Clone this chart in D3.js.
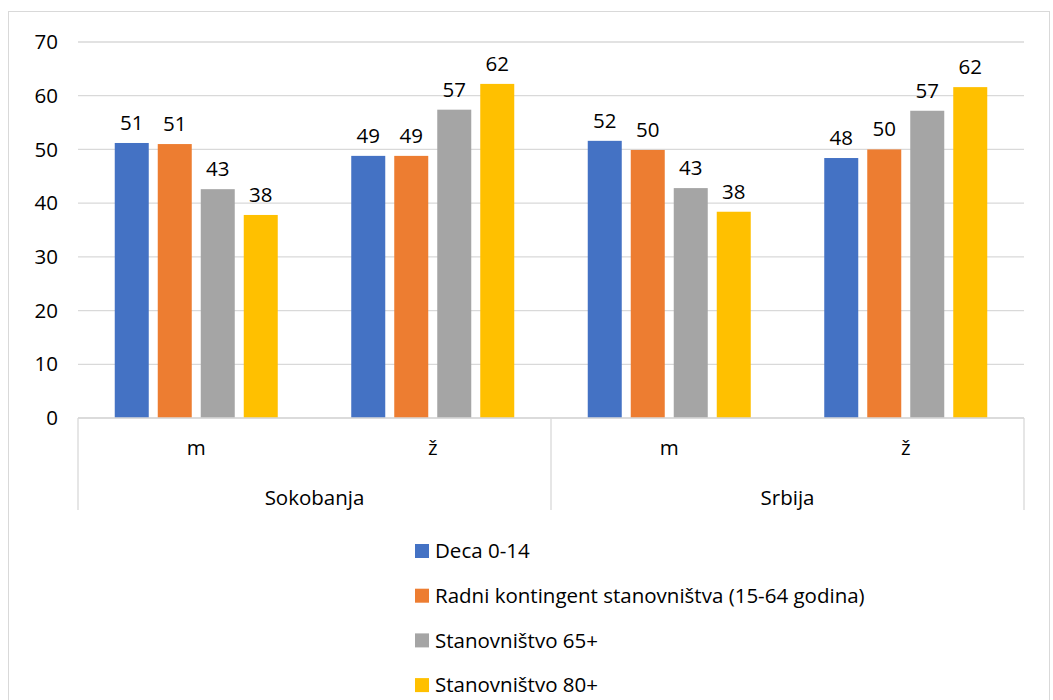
<!DOCTYPE html>
<html>
<head>
<meta charset="utf-8">
<script src="https://d3js.org/d3.v7.min.js"></script>
<style>
  body { margin: 0; background: #fff; }
  text { font-family: "Open Sans", sans-serif; fill: #000; }
</style>
</head>
<body>
<script>
const width = 1053;
const height = 700;

// data
const regions = ['Sokobanja', 'Srbija'];
const sexes = ['m', 'ž'];
const seriesNames = ['Deca 0-14', 'Radni kontingent stanovništva (15-64 godina)', 'Stanovništvo 65+', 'Stanovništvo 80+'];
const colors = ['#4472c4', '#ed7d31', '#a5a5a5', '#ffc000'];
// one array per series, order: Sokobanja m, Sokobanja ž, Srbija m, Srbija ž
const deca = [51.2, 48.8, 51.6, 48.4];
const radni = [51.0, 48.8, 49.9, 50.0];
const st65 = [42.6, 57.4, 42.8, 57.2];
const st80 = [37.8, 62.2, 38.4, 61.6];
const yTicks = [0, 10, 20, 30, 40, 50, 60, 70];

const seriesValues = [deca, radni, st65, st80];
const cats = [];
regions.forEach(r => sexes.forEach(s => cats.push(r + '|' + s)));

const fs = 20.5;

const svg = d3.select('body').append('svg')
  .attr('width', width)
  .attr('height', height);

// outer frame
svg.append('rect')
  .attr('x', 8.5).attr('y', 11.5)
  .attr('width', 1041).attr('height', 700)
  .attr('fill', 'none').attr('stroke', '#d9d9d9');

const plotL = 78, plotR = 1024, plotT = 42, plotB = 418;

const x = d3.scaleBand().domain(cats).range([plotL, plotR]);
const xInner = d3.scaleBand().domain(d3.range(4)).range([0, 163]).paddingInner(9 / 43);
const y = d3.scaleLinear().domain([0, 70]).range([plotB, plotT]);

// gridlines
svg.append('g').selectAll('line')
  .data(yTicks)
  .join('line')
  .attr('x1', plotL).attr('x2', plotR)
  .attr('y1', d => y(d)).attr('y2', d => y(d))
  .attr('stroke', '#d9d9d9').attr('stroke-width', 1.3);

// y labels
svg.append('g').selectAll('text')
  .data(yTicks)
  .join('text')
  .attr('x', 58).attr('y', d => y(d))
  .attr('dy', '0.35em')
  .attr('text-anchor', 'end')
  .attr('font-size', fs)
  .text(d => d);

// bars
const bars = [];
seriesValues.forEach((vals, si) => vals.forEach((v, ci) => bars.push({ si, cat: cats[ci], v })));

const offset = (x.bandwidth() - 163) / 2;
svg.append('g').selectAll('rect')
  .data(bars)
  .join('rect')
  .attr('x', d => x(d.cat) + offset + xInner(d.si))
  .attr('y', d => y(d.v))
  .attr('width', xInner.bandwidth())
  .attr('height', d => plotB - y(d.v))
  .attr('fill', d => colors[d.si]);

svg.append('g').selectAll('text')
  .data(bars)
  .join('text')
  .attr('x', d => x(d.cat) + offset + xInner(d.si) + xInner.bandwidth() / 2)
  .attr('y', d => y(d.v) - 13)
  .attr('text-anchor', 'middle')
  .attr('font-size', fs)
  .text(d => d3.format('.0f')(d.v));

// category axis
svg.append('line')
  .attr('x1', plotL).attr('x2', plotR)
  .attr('y1', plotB).attr('y2', plotB)
  .attr('stroke', '#d9d9d9').attr('stroke-width', 1.3);

const groupW = x.bandwidth() * sexes.length;
const seps = d3.range(regions.length + 1).map(i => plotL + i * groupW);
svg.append('g').selectAll('line')
  .data(seps)
  .join('line')
  .attr('x1', d => d).attr('x2', d => d)
  .attr('y1', plotB).attr('y2', 510)
  .attr('stroke', '#d9d9d9').attr('stroke-width', 1.3);

svg.append('g').selectAll('text')
  .data(cats)
  .join('text')
  .attr('x', d => x(d) + x.bandwidth() / 2)
  .attr('y', 455)
  .attr('text-anchor', 'middle')
  .attr('font-size', fs)
  .text(d => d.split('|')[1]);

svg.append('g').selectAll('text')
  .data(regions)
  .join('text')
  .attr('x', (d, i) => plotL + i * groupW + groupW / 2)
  .attr('y', 505)
  .attr('text-anchor', 'middle')
  .attr('font-size', fs)
  .text(d => d);

// legend
const lg = svg.append('g').selectAll('g')
  .data(seriesNames)
  .join('g')
  .attr('transform', (d, i) => `translate(415, ${551 + i * 44.7})`);
lg.append('rect')
  .attr('x', 0).attr('y', -7)
  .attr('width', 14).attr('height', 14)
  .attr('fill', (d, i) => colors[i]);
lg.append('text')
  .attr('x', 20).attr('y', 0)
  .attr('dy', '0.35em')
  .attr('font-size', fs)
  .text(d => d);
</script>
</body>
</html>
